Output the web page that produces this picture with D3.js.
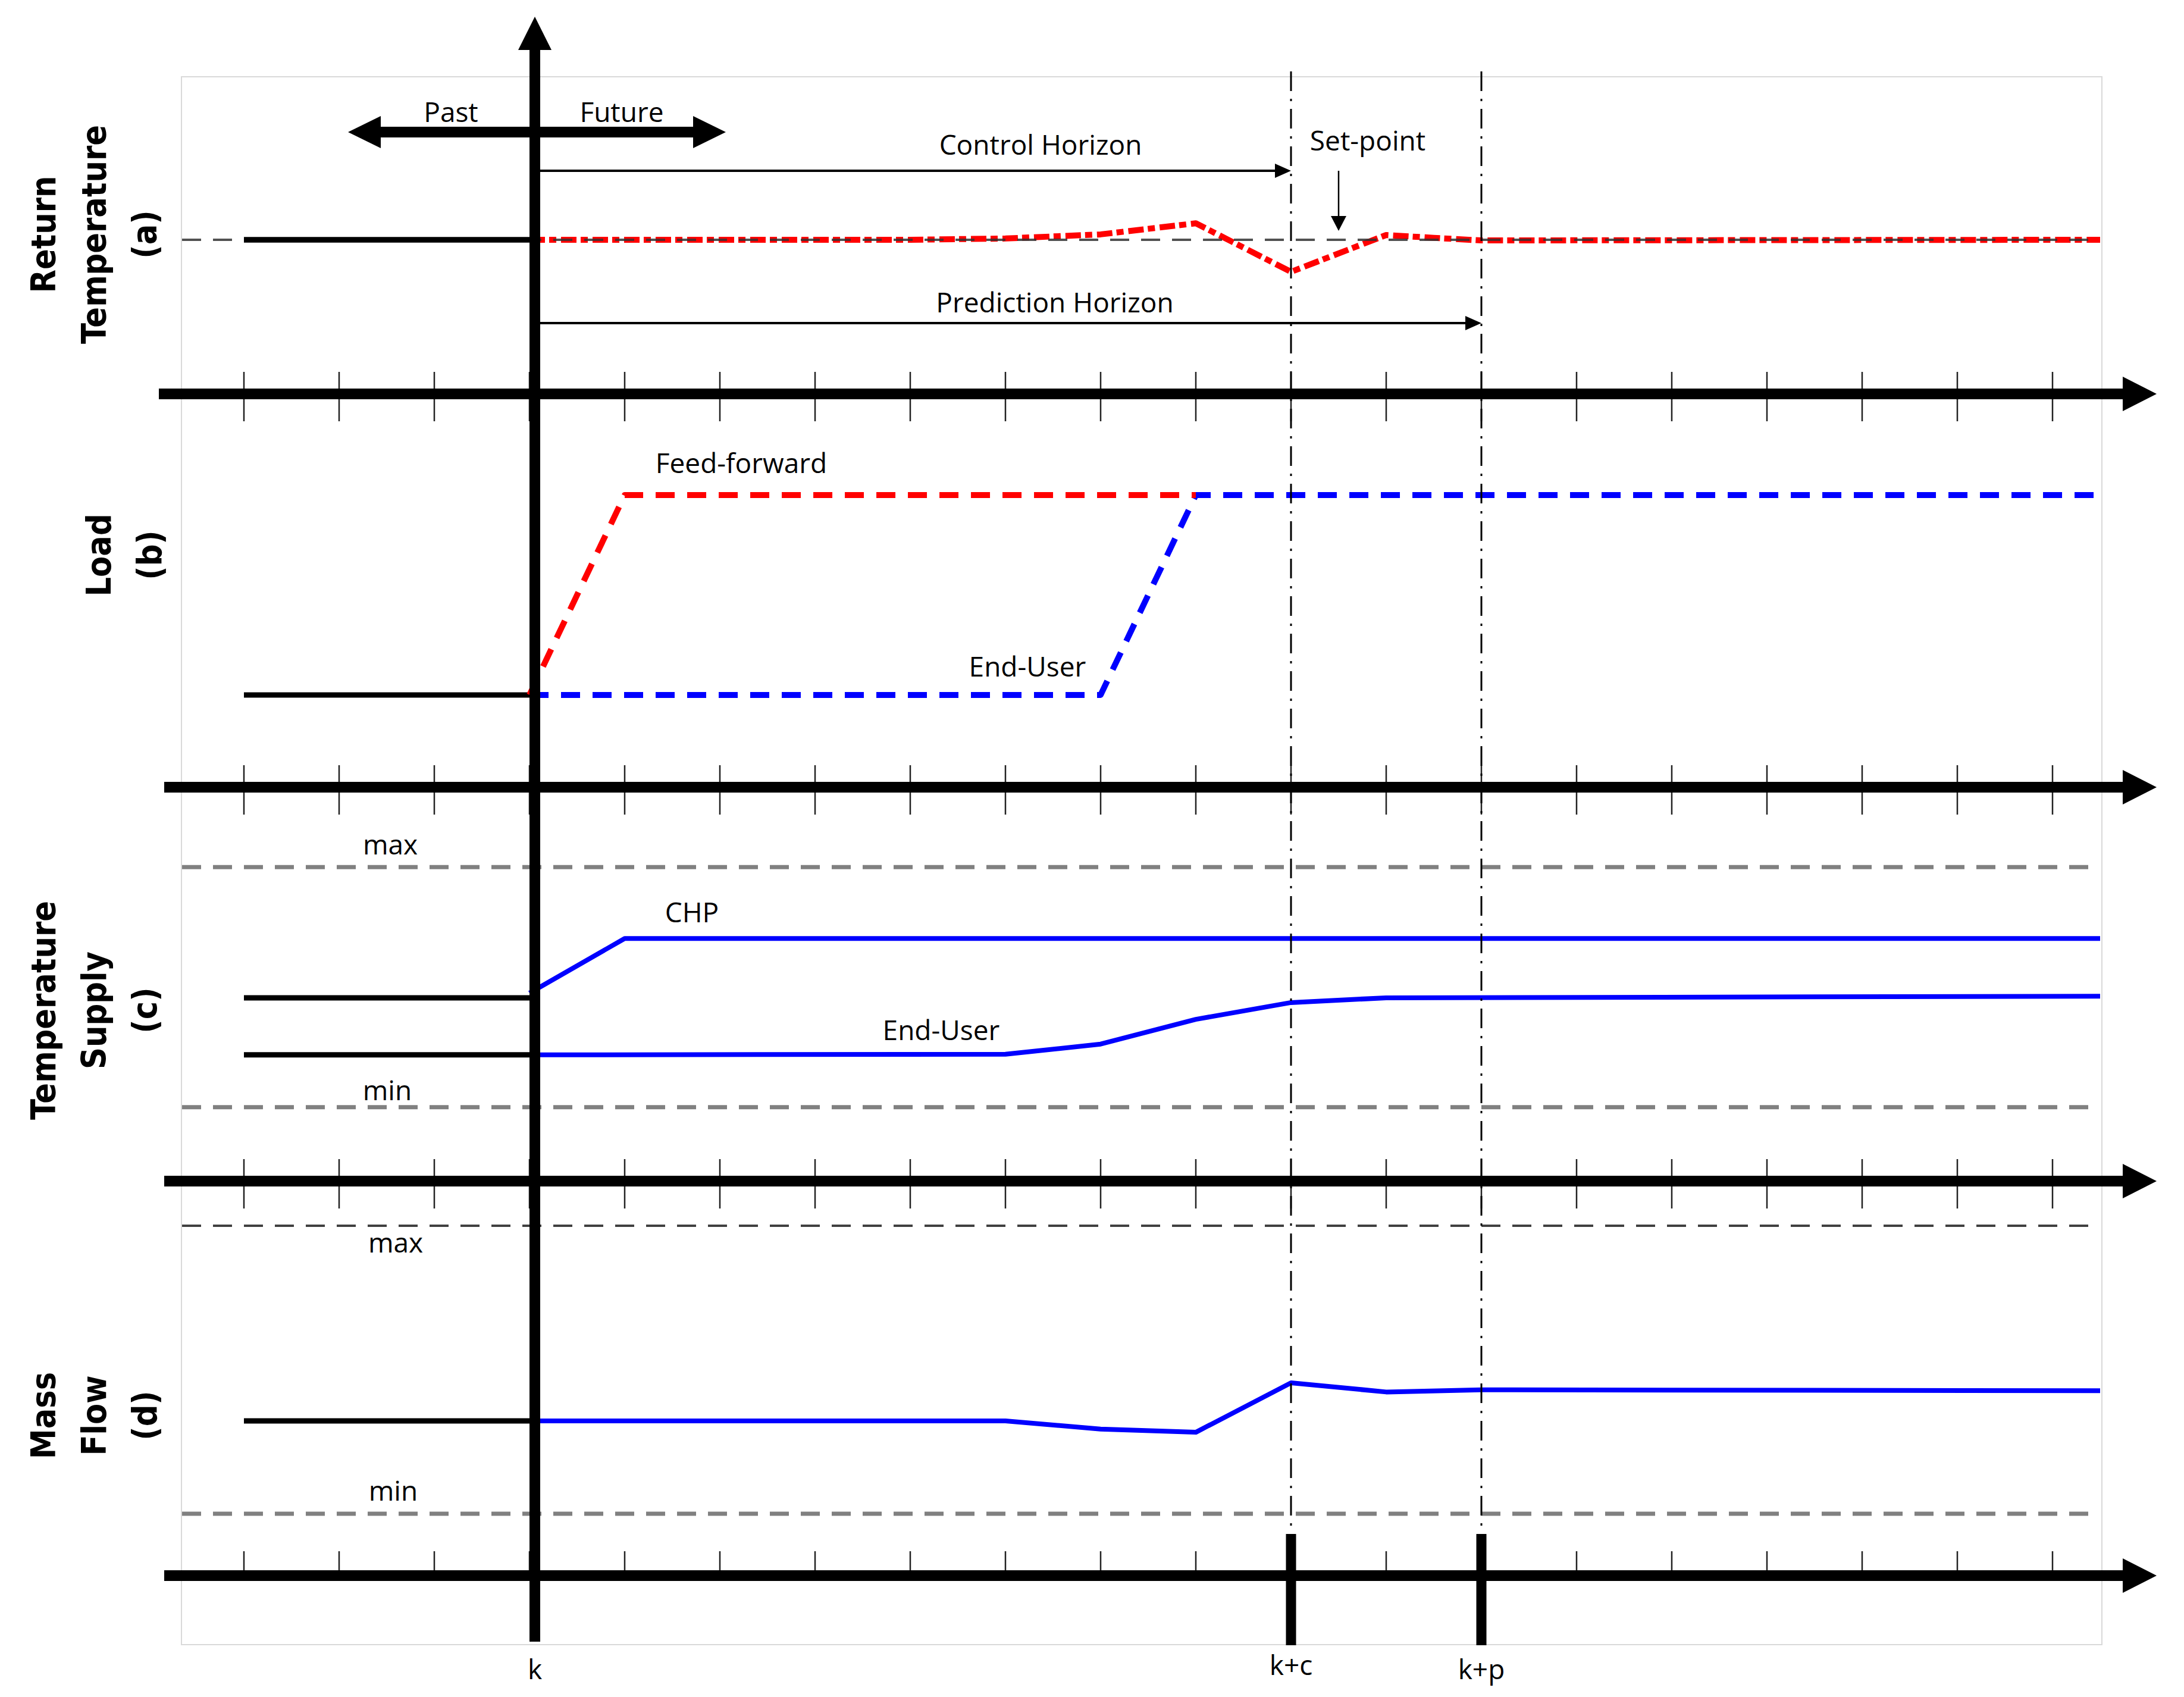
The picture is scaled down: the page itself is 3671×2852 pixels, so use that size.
<!DOCTYPE html>
<html><head><meta charset="utf-8">
<script src="https://cdn.jsdelivr.net/npm/d3@7"></script>
<style>body{margin:0;background:#fff}</style>
</head><body>
<svg id="chart" width="3671" height="2852"></svg>
<script>
// ---------------- data ----------------
const tickSteps = [-3,-2,-1,0,1,2,3,4,5,6,7,8,9,10,11,12,13,14,15,16];
const pastSteps = [-3, 0];
const controlStep = 8, predictionStep = 10, setPointArrowStep = 8.5;
const stepLabels = [{t: 0, s: "k"}, {t: 8, s: "k+c"}, {t: 10, s: "k+p"}];
const panelTitles = [["Return","Temperature","(a)"],["Load","(b)"],["Temperature","Supply","(c)"],["Mass","Flow","(d)"]];

// (a) return temperature
const setPoint = 48.6;
const retTempSteps  = [0, 4, 5, 6, 7, 8, 9, 9.5, 10, 16.5];
const retTempValues = [48.6, 48.6, 49.0, 50.3, 53.8, 38.5, 50.1, 49.2, 48.4, 48.6];
// (b) load
const loadPast = 29.1;
const ffSteps  = [0, 1, 7];
const ffValues = [29.1, 92.1, 92.1];
const euLoadSteps  = [0, 6, 7, 16.5];
const euLoadValues = [29.1, 29.1, 92.1, 92.1];
// (c) supply temperature
const tsMax = 99.0, tsMin = 23.3;
const chpPast = 57.8, euTempPast = 39.8;
const chpSteps  = [0, 1, 16.5];
const chpValues = [59.3, 76.5, 76.5];
const euTempSteps  = [0, 5, 6, 7, 8, 9, 16.5];
const euTempValues = [39.8, 40.0, 43.2, 51.0, 56.3, 57.8, 58.3];
// (d) mass flow
const mfMax = 110.3, mfMin = 19.5;
const flowPast = 48.8;
const flowSteps  = [0, 5, 6, 7, 8, 9, 10, 16.5];
const flowValues = [48.8, 48.8, 46.2, 45.2, 60.8, 57.9, 58.6, 58.3];

// ---------------- layout ----------------
const svg = d3.select("#chart");
const x = d3.scaleLinear().domain([0, 16]).range([890, 3450]);
const axisY = [662, 1323, 1985, 2648];
const ys = axisY.map(a => d3.scaleLinear().domain([0, 100]).range([a, a - 533]));
const kx = 899;
const tEnd = 16.5;
const FONT = "'Open Sans', 'Noto Sans', sans-serif";

const zip = (a, b) => a.map((v, i) => [v, b[i]]);
function drawLine(p, steps, values, opts) {
  const gen = d3.line().x(d => x(d[0])).y(d => ys[p](d[1]));
  return svg.append("path").datum(zip(steps, values)).attr("d", gen)
    .attr("fill", "none").attr("stroke", opts.color).attr("stroke-width", opts.width)
    .attr("stroke-dasharray", opts.dash || null).attr("stroke-linejoin", "round")
    .attr("opacity", opts.opacity || 1);
}
function hRef(p, v, color, width, dash, opacity) {
  svg.append("line").attr("x1", 306).attr("x2", x(tEnd))
    .attr("y1", ys[p](v)).attr("y2", ys[p](v))
    .attr("stroke", color).attr("stroke-width", width).attr("stroke-dasharray", dash)
    .attr("opacity", opacity || 1);
}

// frame
svg.append("rect").attr("x", 305).attr("y", 129).attr("width", 3228).attr("height", 2635)
  .attr("fill", "none").attr("stroke", "#d9d9d9").attr("stroke-width", 2);

// ticks
axisY.forEach((a, i) => {
  const up = i === 3 ? 41 : 37, down = i === 3 ? 0 : 46;
  svg.append("g").selectAll("line").data(tickSteps).join("line")
    .attr("x1", d => x(d)).attr("x2", d => x(d))
    .attr("y1", a - up).attr("y2", a + down)
    .attr("stroke", "#222").attr("stroke-width", 2.5);
});

// reference dashed lines (c), (d)
hRef(2, tsMax, "#808080", 7, "32,20");
hRef(2, tsMin, "#808080", 7, "32,20");
hRef(3, mfMax, "#404040", 4, "32,20");
hRef(3, mfMin, "#808080", 7, "32,20");

// past lines
const past = (p, v) => drawLine(p, pastSteps, pastSteps.map(() => v), {color: "#000", width: 9});
past(0, setPoint); past(1, loadPast); past(2, chpPast); past(2, euTempPast); past(3, flowPast);

// (a) predicted return temperature + set-point
drawLine(0, retTempSteps, retTempValues, {color: "#ff0000", width: 10, dash: "26,7,12,8"});
hRef(0, setPoint, "#333", 4, "32,20", 0.85);
drawLine(0, pastSteps, pastSteps.map(() => setPoint), {color: "#000", width: 9});

// (b) load
drawLine(1, euLoadSteps, euLoadValues, {color: "#0000ff", width: 10, dash: "32,21"});
drawLine(1, ffSteps, ffValues, {color: "#ff0000", width: 10, dash: "32,21"});

// (c) supply temperature
drawLine(2, chpSteps, chpValues, {color: "#0000ff", width: 8});
drawLine(2, euTempSteps, euTempValues, {color: "#0000ff", width: 8});

// (d) mass flow
drawLine(3, flowSteps, flowValues, {color: "#0000ff", width: 8});

// dash-dot horizon lines
[controlStep, predictionStep].forEach(t => {
  svg.append("line").attr("x1", x(t)).attr("x2", x(t)).attr("y1", 120).attr("y2", 2574)
    .attr("stroke", "#000").attr("stroke-width", 3).attr("stroke-dasharray", "33,13,4,13");
  svg.append("line").attr("x1", x(t)).attr("x2", x(t)).attr("y1", 2578).attr("y2", 2765)
    .attr("stroke", "#000").attr("stroke-width", 17);
});

// horizontal axes with arrowheads
axisY.forEach((a, i) => {
  svg.append("line").attr("x1", i === 0 ? 267 : 276).attr("x2", 3572).attr("y1", a).attr("y2", a)
    .attr("stroke", "#000").attr("stroke-width", 18);
  svg.append("path").attr("d", `M3568,${a - 29}L3625,${a}L3568,${a + 29}Z`).attr("fill", "#000");
});

// vertical time axis (k)
svg.append("line").attr("x1", kx).attr("x2", kx).attr("y1", 80).attr("y2", 2759)
  .attr("stroke", "#000").attr("stroke-width", 18);
svg.append("path").attr("d", `M${kx - 28},84L${kx},28L${kx + 28},84Z`).attr("fill", "#000");

// past / future double arrow
svg.append("line").attr("x1", 638).attr("x2", 1167).attr("y1", 222).attr("y2", 222)
  .attr("stroke", "#000").attr("stroke-width", 18);
svg.append("path").attr("d", "M640,195L585,222L640,249Z").attr("fill", "#000");
svg.append("path").attr("d", "M1165,195L1220,222L1165,249Z").attr("fill", "#000");

// horizon arrows
function hArrow(y, t) {
  const xe = x(t);
  svg.append("line").attr("x1", kx + 9).attr("x2", xe - 20).attr("y1", y).attr("y2", y)
    .attr("stroke", "#000").attr("stroke-width", 4);
  svg.append("path").attr("d", `M${xe - 27},${y - 12}L${xe},${y}L${xe - 27},${y + 12}Z`).attr("fill", "#000");
}
hArrow(287, controlStep);
hArrow(543, predictionStep);

// set-point arrow
const sx = x(setPointArrowStep);
svg.append("line").attr("x1", sx).attr("x2", sx).attr("y1", 287).attr("y2", 368)
  .attr("stroke", "#000").attr("stroke-width", 2.5);
svg.append("path").attr("d", `M${sx - 13},363L${sx},388L${sx + 13},363Z`).attr("fill", "#000");

// annotation texts
const notes = [
  {s: "Past", x: 758, y: 205},
  {s: "Future", x: 1045, y: 205},
  {s: "Control Horizon", x: 1749, y: 260},
  {s: "Set-point", x: 2299, y: 253},
  {s: "Prediction Horizon", x: 1773, y: 525},
  {s: "Feed-forward", x: 1246, y: 795},
  {s: "End-User", x: 1727, y: 1137},
  {s: "max", x: 656, y: 1436},
  {s: "CHP", x: 1163, y: 1550},
  {s: "End-User", x: 1582, y: 1748},
  {s: "min", x: 651, y: 1849},
  {s: "max", x: 665, y: 2105},
  {s: "min", x: 661, y: 2522}
];
svg.append("g").selectAll("text").data(notes).join("text")
  .attr("x", d => d.x).attr("y", d => d.y).attr("text-anchor", "middle")
  .attr("font-family", FONT).attr("font-size", 46).attr("fill", "#000").text(d => d.s);

// step labels under the axis
svg.append("g").selectAll("text").data(stepLabels).join("text")
  .attr("x", d => d.t === 0 ? kx : x(d.t)).attr("y", d => d.t === 8 ? 2815 : 2822)
  .attr("text-anchor", "middle").attr("font-family", FONT).attr("font-size", 46)
  .text(d => d.s);

// panel titles (rotated)
const titleCenters = [394, 933, 1698, 2379];
const baselines = [93, 178, 263];
panelTitles.forEach((lines, p) => {
  const offset = lines.length === 2 ? 1 : 0;
  lines.forEach((s, j) => {
    const bx = baselines[j + offset] + (p === 1 ? 8 : 0);
    svg.append("text")
      .attr("transform", `translate(${bx},${titleCenters[p]}) rotate(-90)`)
      .attr("text-anchor", "middle")
      .attr("font-family", "'DejaVu Sans Condensed', 'DejaVu Sans', sans-serif")
      .attr("font-stretch", "condensed")
      .attr("font-weight", "bold").attr("font-size", 57).attr("fill", "#000")
      .text(s);
  });
});
</script>
</body></html>
